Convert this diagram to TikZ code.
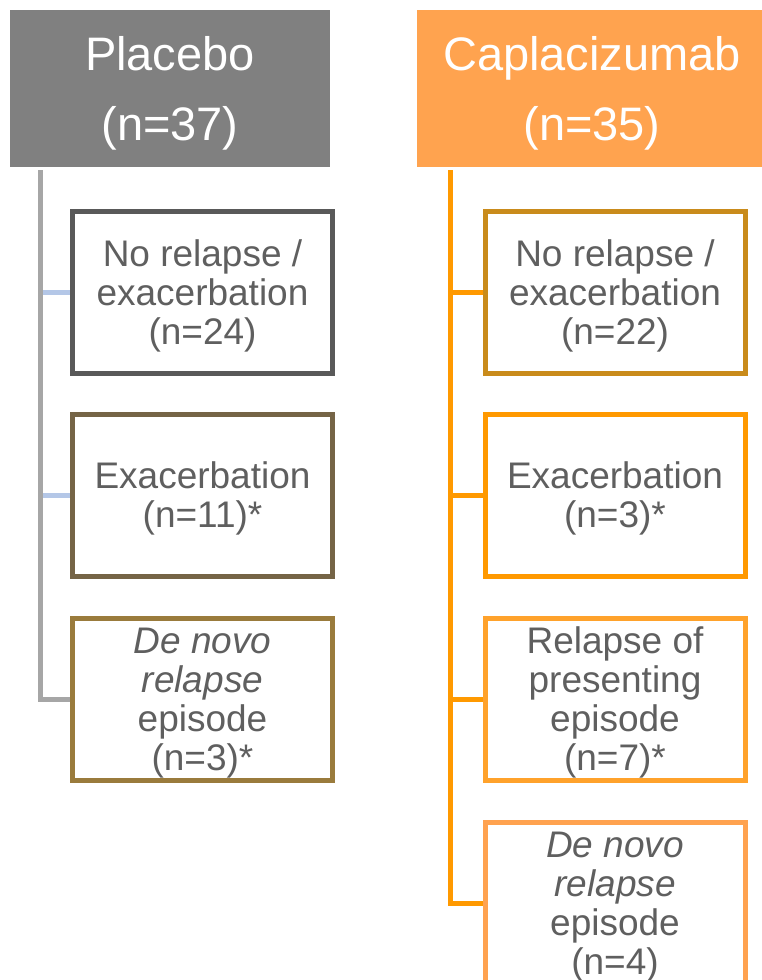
\documentclass[tikz,border=0pt]{standalone}
\usepackage{fontspec}
\setmainfont{Liberation Sans}

\definecolor{hdgray}{HTML}{808080}
\definecolor{hdorange}{HTML}{FFA34F}
\definecolor{txtgray}{HTML}{5F5F5F}
\definecolor{trunkgray}{HTML}{A6A6A6}
\definecolor{branchblue}{HTML}{B4C7E7}
\definecolor{trunkorange}{HTML}{FF9900}
\definecolor{pOne}{HTML}{595959}
\definecolor{pTwo}{HTML}{756446}
\definecolor{pThree}{HTML}{9A7B3C}
\definecolor{cOne}{HTML}{C98B1B}
\definecolor{cTwo}{HTML}{FF9900}
\definecolor{cThree}{HTML}{FFA22B}
\definecolor{cFour}{HTML}{FFA24F}

% taller first line, so that the text sits a little lower in its box
\newcommand{\hdlift}{\rule{0pt}{44pt}}
\newcommand{\oclift}{\rule{0pt}{34pt}}

\tikzset{
  header/.style={rectangle, inner sep=0pt, minimum height=157pt, text=white,
    align=center, font=\fontsize{47}{70}\selectfont},
  outcome/.style={rectangle, draw, line width=5pt, fill=white, inner sep=0pt,
    minimum width=260pt, minimum height=162pt, text=txtgray, align=center,
    font=\fontsize{37}{39}\selectfont},
  trunk/.style={line width=5pt}
}

\begin{document}
\begin{tikzpicture}[x=1pt,y=-1pt]
            \useasboundingbox (0,0) rectangle (761,980);
            % group headers
            \node[header, fill=hdgray, minimum width=320pt] (hdP) at (170,88.5) {\hdlift Placebo\\(n=37)};
            \node[header, fill=hdorange, minimum width=350pt] (hdC) at (592,88.5) {\hdlift Caplacizumab\\(n=35)};
            % placebo outcomes
            \node[outcome, draw=pOne] (noP) at (202.5,292.5) {\oclift No relapse /\\exacerbation\\(n=24)};
            \node[outcome, draw=pTwo] (exP) at (202.5,495) {\oclift Exacerbation\\(n=11)*};
            \node[outcome, draw=pThree] (dnP) at (202.5,699) {\oclift\itshape De novo\\\itshape relapse\\episode\\(n=3)*};
            % caplacizumab outcomes
            \node[outcome, draw=cOne] (noC) at (615,292.5) {\oclift No relapse /\\exacerbation\\(n=22)};
            \node[outcome, draw=cTwo] (exC) at (615,495) {\oclift Exacerbation\\(n=3)*};
            \node[outcome, draw=cThree] (rpC) at (615,699) {\oclift Relapse of\\presenting\\episode\\(n=7)*};
            \node[outcome, draw=cFour] (dnC) at (615,903) {\oclift\itshape De novo\\\itshape relapse\\episode\\(n=4)};
            % trunk tops
            \coordinate (tP) at (40,170);
            \coordinate (tC) at (450,170);
            % placebo connectors
            \draw[trunk, branchblue] (tP |- noP.west) -- (noP.west);
            \draw[trunk, branchblue] (tP |- exP.west) -- (exP.west);
            \draw[trunk, trunkgray] (tP) |- (dnP.west);
            % caplacizumab connectors
            \draw[trunk, trunkorange] (tC |- noC.west) -- (noC.west);
            \draw[trunk, trunkorange] (tC |- exC.west) -- (exC.west);
            \draw[trunk, trunkorange] (tC |- rpC.west) -- (rpC.west);
            \draw[trunk, trunkorange] (tC) |- (dnC.west);
        \end{tikzpicture}
\end{document}
